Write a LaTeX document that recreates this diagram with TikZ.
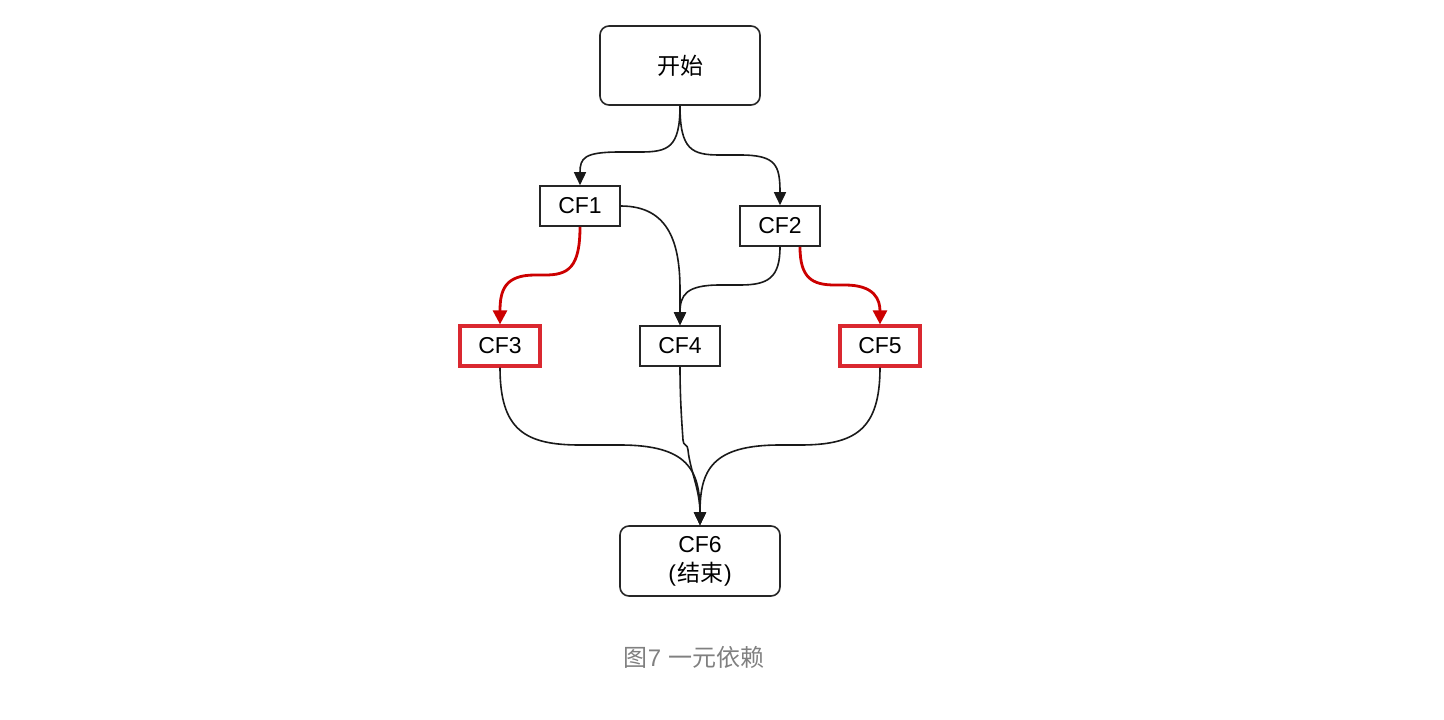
\documentclass[tikz,border=0pt]{standalone}
\usepackage{fontspec}
\setmainfont{Liberation Sans}
\newfontfamily\cjk{Noto Sans CJK SC}
\usetikzlibrary{arrows.meta}
\definecolor{edgered}{RGB}{204,0,0}
\definecolor{boxred}{RGB}{218,40,48}
\definecolor{capgray}{RGB}{128,128,128}
\begin{document}
\begin{tikzpicture}[x=1pt,y=-1pt,
  rbox/.style={draw=black!85,line width=1.6pt,rounded corners=9pt,minimum width=160pt,inner sep=0pt,font=\fontsize{23}{29}\selectfont,align=center},
  sbox/.style={draw=black!85,line width=1.6pt,minimum width=80pt,minimum height=40pt,inner sep=0pt,font=\fontsize{23}{27}\selectfont},
  redbox/.style={sbox,draw=boxred,line width=3.2pt},
  conn/.style={draw=black!90,line width=1.6pt,-{Triangle[length=13pt,width=12pt]}},
  redconn/.style={draw=edgered,line width=2.8pt,-{Triangle[length=14pt,width=14pt]}}]
\useasboundingbox (0,0) rectangle (1444,720);
\node[rbox,minimum height=79pt] (start) at (680,65.5) {\cjk 开始};
\node[sbox] (cf1) at (580,206) {CF1};
\node[sbox] (cf2) at (780,226) {CF2};
\node[redbox,minimum width=80pt,minimum height=40pt] (cf3) at (500,346) {CF3};
\node[sbox] (cf4) at (680,346) {CF4};
\node[redbox,minimum width=80pt,minimum height=40pt] (cf5) at (880,346) {CF5};
\node[rbox,minimum height=70pt] (cf6) at (700,561) {CF6\\(\kern1pt{\cjk 结束}\kern1pt)};
\node[font=\fontsize{24}{28}\selectfont,text=capgray] (cap) at (694,657) {{\cjk 图}7 {\cjk 一元依赖}};
% start -> CF1
\draw[conn] (start.south) .. controls (680,148) and (668,152) .. (640,152) -- (620,152) .. controls (584,152) and (580,158) .. (cf1.north);
% start -> CF2
\draw[conn] (start.south) .. controls (680,150) and (692,155) .. (720,155) -- (740,155) .. controls (776,155) and (780,165) .. (cf2.north);
% CF1 -> CF4
\draw[conn] (cf1.east) .. controls (670,206) and (680,245) .. (680,290) -- (cf4.north);
% CF2 -> CF4
\draw[conn] (cf2.south) .. controls (780,278) and (768,285) .. (740,285) -- (720,285) .. controls (686,285) and (680,295) .. (cf4.north);
% CF1 -> CF3 red
\draw[redconn] (cf1.south) .. controls (580,268) and (568,275) .. (545,275) -- (535,275) .. controls (505,275) and (500,290) .. (cf3.north);
% CF2 -> CF5 red
\draw[redconn] ([xshift=20pt]cf2.south) .. controls (800,278) and (812,285) .. (835,285) -- (845,285) .. controls (875,285) and (880,300) .. (cf5.north);
% CF3 -> CF6
\draw[conn] (cf3.south) .. controls (500,430) and (525,445) .. (580,445) -- (620,445) .. controls (688,445) and (700,470) .. (cf6.north);
% CF5 -> CF6
\draw[conn] (cf5.south) .. controls (880,430) and (855,445) .. (800,445) -- (780,445) .. controls (712,445) and (700,470) .. (cf6.north);
% CF4 -> CF6
\draw[conn] (cf4.south) .. controls (680,400) and (682,425) .. (683,440) .. controls (683,446) and (688,444) .. (688,450) .. controls (690,470) and (700,490) .. (cf6.north);
\end{tikzpicture}
\end{document}
